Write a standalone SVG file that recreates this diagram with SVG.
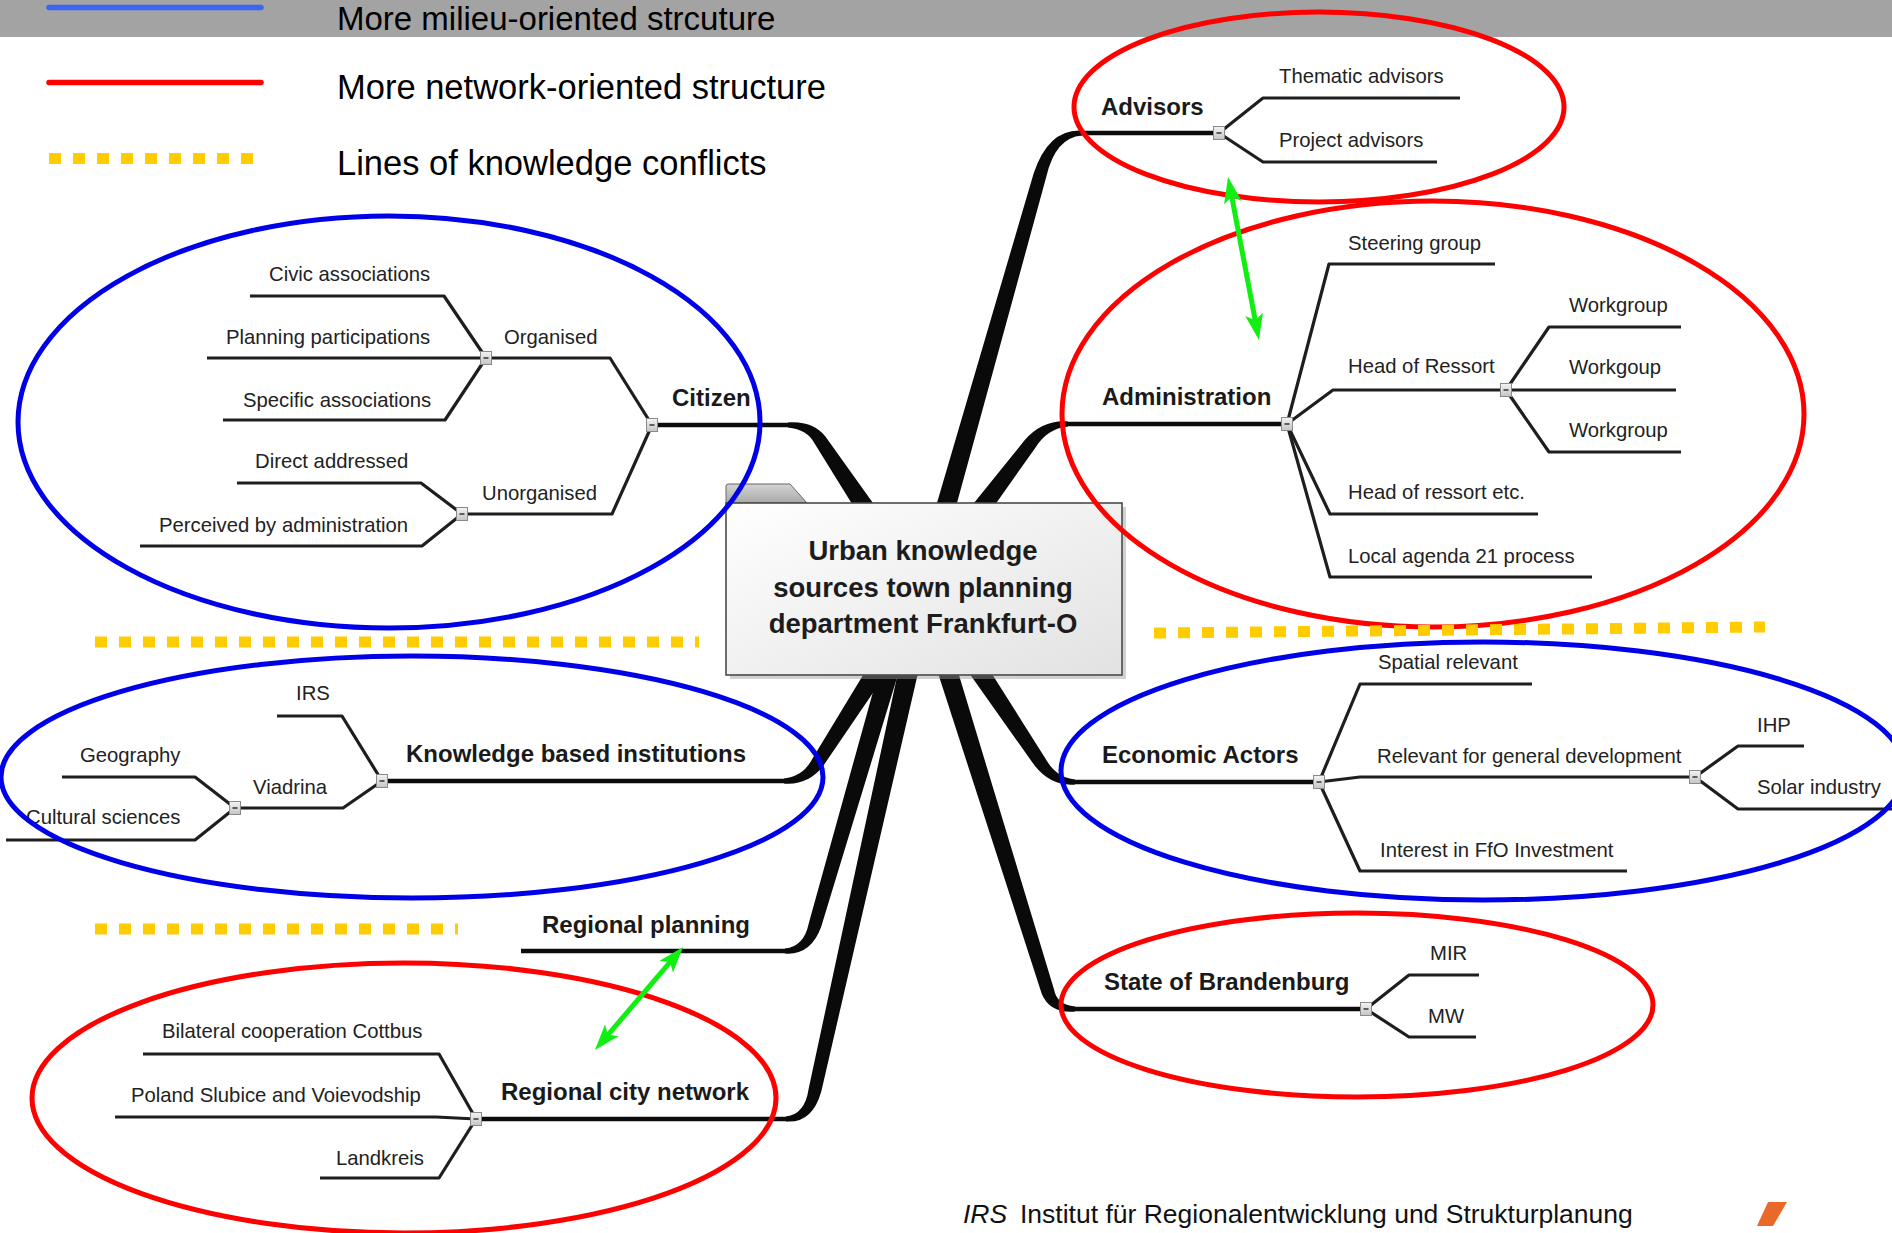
<svg xmlns="http://www.w3.org/2000/svg" xmlns:xlink="http://www.w3.org/1999/xlink" width="1892" height="1233" viewBox="0 0 1892 1233">
<defs>
<style>
.t{font-family:"Liberation Sans",Arial,sans-serif;fill:#222;font-size:20.3px}
.b{font-weight:bold;font-size:24px;fill:#1a1a1a}
.leg{font-family:"Liberation Sans",Arial,sans-serif;font-size:34.5px;fill:#000}
.ctr{font-family:"Liberation Sans",Arial,sans-serif;font-weight:bold;font-size:27.5px;fill:#1c1c1c;text-anchor:middle}
.sub{fill:none;stroke:#1e1e1e;stroke-width:3.2;stroke-linejoin:round}
.main{fill:none;stroke:#0c0c0c;stroke-width:4.5}
.br{fill:#0a0a0a}
.blue{fill:none;stroke:#0000e8;stroke-width:5}
.red{fill:none;stroke:#ff0000;stroke-width:5}
.conf{stroke:#ffcc00;stroke-width:11;stroke-dasharray:12 12}
.arr{stroke:#11ee11;stroke-width:5;marker-start:url(#ah);marker-end:url(#ah)}
</style>
<linearGradient id="sqg" x1="0" y1="0" x2="0" y2="1"><stop offset="0" stop-color="#f4f4f4"/><stop offset="1" stop-color="#c4c4c4"/></linearGradient>
<linearGradient id="boxg" x1="0" y1="0" x2="1" y2="1"><stop offset="0" stop-color="#ffffff"/><stop offset="1" stop-color="#e2e2e2"/></linearGradient>
<linearGradient id="tabg" x1="0" y1="0" x2="0" y2="1"><stop offset="0" stop-color="#d4d4d4"/><stop offset="1" stop-color="#a9a9a9"/></linearGradient>
<g id="sq"><rect x="-5.5" y="-6.5" width="11" height="13" fill="url(#sqg)" stroke="#8a8a8a" stroke-width="1"/><line x1="-2.5" y1="0" x2="2.5" y2="0" stroke="#333" stroke-width="1.5"/></g>
<marker id="ah" viewBox="0 0 26 18" refX="7" refY="9" markerWidth="26" markerHeight="18" markerUnits="userSpaceOnUse" orient="auto-start-reverse"><path d="M0,0 L26,9 L0,18 L6,9 Z" fill="#11ee11"/></marker>
</defs>
<rect width="1892" height="1233" fill="#ffffff"/>

<g id="legend">
<rect x="0" y="0" width="1892" height="37" fill="#a3a3a3"/>
<line x1="49" y1="7.5" x2="261" y2="7.5" stroke="#3a66f5" stroke-width="5.5" stroke-linecap="round"/>
<text class="leg" x="337" y="30" font-size="33" style="font-size:33px">More milieu-oriented strcuture</text>
<line x1="49" y1="82.5" x2="261" y2="82.5" stroke="#ff0000" stroke-width="5.5" stroke-linecap="round"/>
<text class="leg" x="337" y="99">More network-oriented structure</text>
<line x1="49" y1="158.5" x2="256" y2="158.5" class="conf"/>
<text class="leg" x="337" y="175">Lines of knowledge conflicts</text>
</g>

<g id="connectors">
<path class="br" d="M946.1,542.7 L1046.3,176.8 Q1055.4,137.5 1082,135.5 L1082,130.5 Q1048.6,128.5 1033.7,173.2 L926.9,537.3 Z"/>
<path class="br" d="M973,536 L1035.2,447.9 Q1047.2,428.5 1068,426.5 L1068,421.5 Q1042.8,419.5 1024.8,440.1 L957,524 Z"/>
<path class="br" d="M888.3,524.5 L825.4,436.4 Q812.4,420.5 788,422.5 L788,427.5 Q807.6,429.5 814.6,443.6 L871.7,535.6 Z"/>
<path class="br" d="M881.6,644.6 L812.5,758.5 Q803.3,776.5 784,778.5 L784,783.5 Q808.3,785.5 823.5,765.5 L898.4,655.4 Z"/>
<path class="br" d="M885.4,647.2 L808.8,923.2 Q804,946.5 785,948.5 L785,953.5 Q810.8,955.5 821.2,926.8 L904.6,652.8 Z"/>
<path class="br" d="M903.2,647.8 L808.7,1088.6 Q805,1114.5 786,1116.5 L786,1121.5 Q812.2,1123.5 821.3,1091.4 L922.8,652.2 Z"/>
<path class="br" d="M956.7,655.6 L1034.6,765.6 Q1051,786.5 1075,784.5 L1075,779.5 Q1055.8,777.5 1045.4,758.4 L973.3,644.4 Z"/>
<path class="br" d="M931.5,653 L1041.8,993.9 Q1050,1013.5 1075,1011.5 L1075,1006.5 Q1056.6,1004.5 1054.2,990.1 L950.5,647 Z"/>
<line class="main" x1="1080" y1="133" x2="1219" y2="133"/>
<line class="main" x1="1065" y1="424" x2="1287" y2="424"/>
<line class="main" x1="792" y1="425" x2="652" y2="425"/>
<line class="main" x1="786" y1="781" x2="382" y2="781"/>
<line class="main" x1="787" y1="951" x2="521" y2="951"/>
<line class="main" x1="788" y1="1119" x2="476" y2="1119"/>
<line class="main" x1="1073" y1="782" x2="1319" y2="782"/>
<line class="main" x1="1073" y1="1009" x2="1366" y2="1009"/>
<polyline class="sub" points="652,425 610,358 486,358"/>
<polyline class="sub" points="652,425 612,514 462,514"/>
<polyline class="sub" points="486,358 444,296 250,296"/>
<polyline class="sub" points="486,358 207,358"/>
<polyline class="sub" points="486,358 445,420 223,420"/>
<polyline class="sub" points="462,514 421,483 237,483"/>
<polyline class="sub" points="462,514 422,546 140,546"/>
<polyline class="sub" points="382,781 342,716 277,716"/>
<polyline class="sub" points="382,781 343,808 235,808"/>
<polyline class="sub" points="235,808 195,777 62,777"/>
<polyline class="sub" points="235,808 195,840 6,840"/>
<polyline class="sub" points="476,1119 439,1054 143,1054"/>
<polyline class="sub" points="476,1119 436,1117 115,1117"/>
<polyline class="sub" points="476,1119 439,1178 320,1178"/>
<polyline class="sub" points="1219,133 1263,98 1460,98"/>
<polyline class="sub" points="1219,133 1263,162 1437,162"/>
<polyline class="sub" points="1287,424 1329,264 1495,264"/>
<polyline class="sub" points="1287,424 1333,390 1506,390"/>
<polyline class="sub" points="1506,390 1549,327 1681,327"/>
<polyline class="sub" points="1506,390 1676,390"/>
<polyline class="sub" points="1506,390 1549,452 1681,452"/>
<polyline class="sub" points="1287,424 1330,514 1538,514"/>
<polyline class="sub" points="1287,424 1330,577 1592,577"/>
<polyline class="sub" points="1319,782 1360,684 1532,684"/>
<polyline class="sub" points="1319,782 1360,777 1695,777"/>
<polyline class="sub" points="1695,777 1738,746 1804,746"/>
<polyline class="sub" points="1695,777 1738,809 1892,809"/>
<polyline class="sub" points="1319,782 1360,871 1627,871"/>
<polyline class="sub" points="1366,1009 1409,975 1479,975"/>
<polyline class="sub" points="1366,1009 1409,1037 1476,1037"/>
</g>

<g id="node-center">
<rect x="730" y="507" width="396" height="172" fill="#9a9a9a" opacity="0.45"/>
<path d="M726,503 L726,486 Q726,484 728.5,484 L790,484 L807,503 Z" fill="url(#tabg)" stroke="#666" stroke-width="1"/>
<rect x="726" y="503" width="396" height="172" fill="url(#boxg)" stroke="#4a4a4a" stroke-width="1.6"/>
<text class="ctr" x="923" y="560">Urban knowledge</text>
<text class="ctr" x="923" y="597">sources town planning</text>
<text class="ctr" x="923" y="633">department Frankfurt-O</text>
</g>

<g id="node-citizen">
<text class="t b" x="672" y="406">Citizen</text>
<text class="t" x="504" y="344">Organised</text>
<text class="t" x="482" y="500">Unorganised</text>
<text class="t" x="269" y="281">Civic associations</text>
<text class="t" x="226" y="344">Planning participations</text>
<text class="t" x="243" y="407">Specific associations</text>
<text class="t" x="255" y="468">Direct addressed</text>
<text class="t" x="159" y="532">Perceived by administration</text>
<use href="#sq" x="652" y="425"/>
<use href="#sq" x="486" y="358"/>
<use href="#sq" x="462" y="514"/>
</g>

<g id="node-knowledge">
<text class="t b" x="406" y="762">Knowledge based institutions</text>
<text class="t" x="296" y="700">IRS</text>
<text class="t" x="253" y="794">Viadrina</text>
<text class="t" x="80" y="762">Geography</text>
<text class="t" x="26" y="824">Cultural sciences</text>
<use href="#sq" x="382" y="781"/>
<use href="#sq" x="235" y="808"/>
</g>

<g id="node-regional-planning">
<text class="t b" x="542" y="933">Regional planning</text>
</g>

<g id="node-regional-city-network">
<text class="t b" x="501" y="1100">Regional city network</text>
<text class="t" x="162" y="1038">Bilateral cooperation Cottbus</text>
<text class="t" x="131" y="1102">Poland Slubice and Voievodship</text>
<text class="t" x="336" y="1165">Landkreis</text>
<use href="#sq" x="476" y="1119"/>
</g>

<g id="node-advisors">
<text class="t b" x="1101" y="115">Advisors</text>
<text class="t" x="1279" y="83">Thematic advisors</text>
<text class="t" x="1279" y="147">Project advisors</text>
<use href="#sq" x="1219" y="133"/>
</g>

<g id="node-administration">
<text class="t b" x="1102" y="405">Administration</text>
<text class="t" x="1348" y="250">Steering group</text>
<text class="t" x="1348" y="373">Head of Ressort</text>
<text class="t" x="1569" y="312">Workgroup</text>
<text class="t" x="1569" y="374">Workgoup</text>
<text class="t" x="1569" y="437">Workgroup</text>
<text class="t" x="1348" y="499">Head of ressort etc.</text>
<text class="t" x="1348" y="563">Local agenda 21 process</text>
<use href="#sq" x="1287" y="424"/>
<use href="#sq" x="1506" y="390"/>
</g>

<g id="node-economic">
<text class="t b" x="1102" y="763">Economic Actors</text>
<text class="t" x="1378" y="669">Spatial relevant</text>
<text class="t" x="1377" y="763">Relevant for general development</text>
<text class="t" x="1757" y="732">IHP</text>
<text class="t" x="1757" y="794">Solar industry</text>
<text class="t" x="1380" y="857">Interest in FfO Investment</text>
<use href="#sq" x="1319" y="782"/>
<use href="#sq" x="1695" y="777"/>
</g>

<g id="node-state">
<text class="t b" x="1104" y="990">State of Brandenburg</text>
<text class="t" x="1430" y="960">MIR</text>
<text class="t" x="1428" y="1023">MW</text>
<use href="#sq" x="1366" y="1009"/>
</g>

<g id="groupings">
<ellipse class="blue" cx="389" cy="422" rx="371" ry="206"/>
<ellipse class="blue" cx="412" cy="777" rx="411" ry="121"/>
<ellipse class="red" cx="1319" cy="107" rx="245" ry="95"/>
<ellipse class="red" cx="1433" cy="414" rx="371" ry="213"/>
<ellipse class="blue" cx="1483" cy="771" rx="422" ry="129"/>
<ellipse class="red" cx="1357" cy="1005" rx="296" ry="92"/>
<ellipse class="red" cx="404" cy="1098" rx="372" ry="135"/>
</g>

<g id="conflict-lines">
<line class="conf" x1="95" y1="642" x2="699" y2="642"/>
<line class="conf" x1="95" y1="929" x2="458" y2="929"/>
<line class="conf" x1="1154" y1="633" x2="1765" y2="627"/>
</g>

<g id="conflict-arrows">
<line class="arr" x1="1231.6" y1="195.7" x2="1255.4" y2="321.3"/>
<line class="arr" x1="670.7" y1="961.4" x2="607.3" y2="1035.6"/>
</g>

<g id="footer">
<text x="963" y="1223" font-family="Liberation Sans, Arial, sans-serif" font-size="26.5" font-style="italic" fill="#111">IRS</text>
<text x="1020" y="1223" font-family="Liberation Sans, Arial, sans-serif" font-size="26.5" fill="#111">Institut für Regionalentwicklung und Strukturplanung</text>
<path d="M1768,1202 L1787,1202 L1773,1226 L1757,1226 Z" fill="#e8692a"/>
</g>
</svg>
